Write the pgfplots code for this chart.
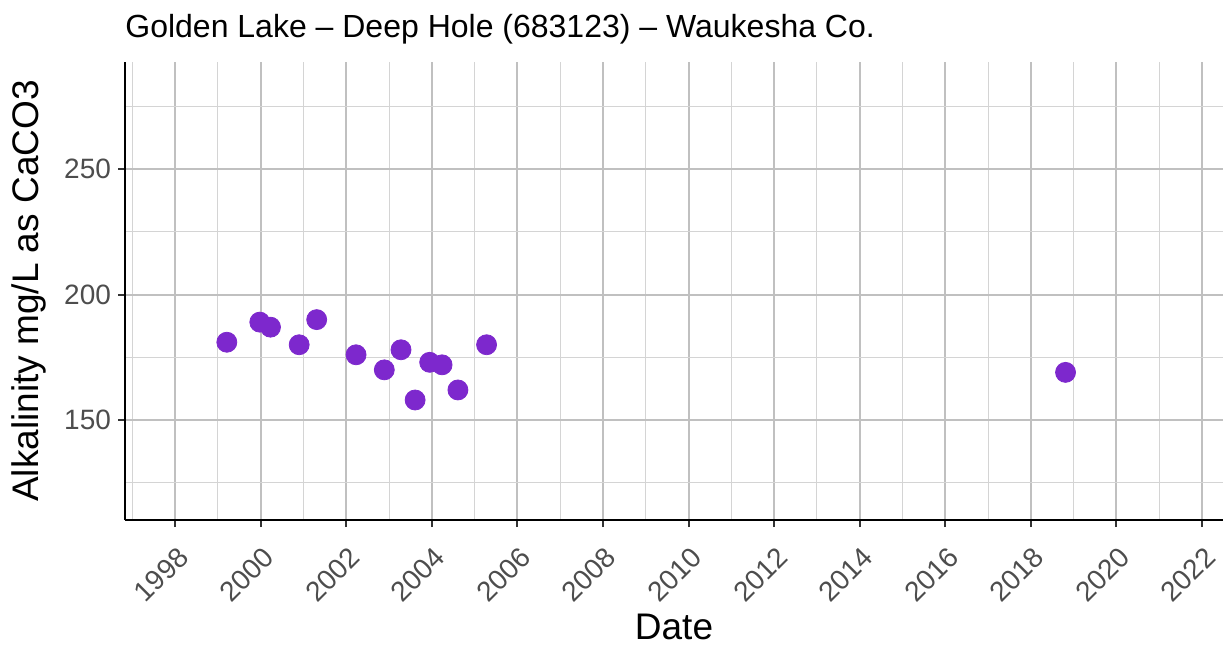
\documentclass[border=0pt]{standalone}
\usepackage{pgfplots}
\pgfplotsset{compat=1.18}
\usepackage{fontspec}
\setmainfont{Liberation Sans}
\definecolor{ptcol}{RGB}{125,40,205}
\definecolor{gridmaj}{RGB}{192,192,192}
\definecolor{gridmin}{RGB}{212,212,212}
\definecolor{ticklab}{RGB}{77,77,77}
\begin{document}
\begin{tikzpicture}
\begin{axis}[
    name=ax,
    scale only axis,
    width=549pt, height=229pt,
    xmin=1996.83, xmax=2022.49,
    ymin=110.2, ymax=292.6,
    axis x line=bottom, axis y line=left,
    axis line style={line width=1.3pt,-},
    xtick={1998,2000,...,2022},
    minor xtick={1997,1999,...,2023},
    ytick={150,200,250},
    minor ytick={125,175,225,275},
    grid=both,
    major grid style={gridmaj,line width=1pt},
    minor grid style={gridmin,line width=0.5pt},
    tick align=outside,
    major tick length=3.5pt,
    minor tick length=0pt,
    tick style={black!80,line width=1pt},
    /pgf/number format/assume math mode=true,
    /pgf/number format/1000 sep={},
    tick label style={font=\fontsize{14}{16}\selectfont,color=ticklab},
    x tick label style={rotate=45,anchor=east,xshift=-2.8pt,yshift=-12.1pt},
    xlabel={Date},
    ylabel={Alkalinity mg/L as CaCO3},
    label style={font=\fontsize{18.5}{20}\selectfont},
    xlabel style={yshift=3.5pt},
    ylabel style={yshift=2pt},
    clip=false,
]
\addplot[only marks, mark=*, mark size=5pt, color=ptcol, mark options={draw=ptcol,fill=ptcol}] coordinates {
(1999.21,181) (1999.98,189) (2000.23,187) (2000.90,180) (2001.31,190)
(2002.23,176) (2002.89,170) (2003.28,178) (2003.61,158) (2003.95,173)
(2004.24,172) (2004.61,162) (2005.28,180) (2018.81,169)
};
\end{axis}
\node[anchor=base west,font=\fontsize{16}{18}\selectfont,inner sep=0pt] at ([yshift=12.5pt]ax.north west) {Golden Lake – Deep Hole (683123) – Waukesha Co.};
\pgfresetboundingbox
\path ([xshift=-62.5pt,yshift=-62pt]ax.south west) rectangle ([yshift=31pt]ax.north east);
\end{tikzpicture}
\end{document}
